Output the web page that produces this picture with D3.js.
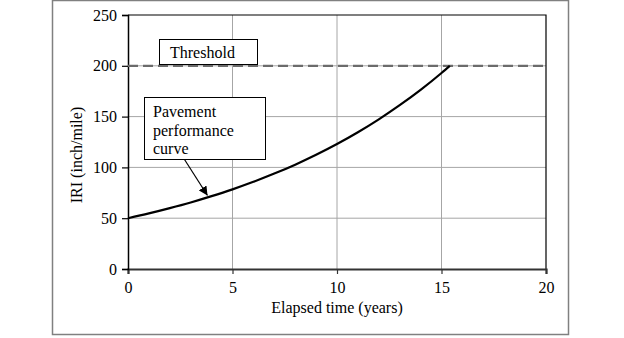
<!DOCTYPE html>
<html>
<head>
<meta charset="utf-8">
<script src="https://cdn.jsdelivr.net/npm/d3@7"></script>
<style>
  html, body { margin: 0; padding: 0; background: #fff; }
  svg text { font-family: "Liberation Serif", "Times New Roman", serif; fill: #000; }
</style>
</head>
<body>
<svg id="chart" width="624" height="338"></svg>
<script>
// Elapsed years and IRI (inch/mile) along the pavement performance curve
const years = [0, 1, 2, 3, 4, 5, 6, 7, 8, 9, 10, 11, 12, 13, 14, 15, 15.4];
const iri   = [50, 54.7, 59.9, 65.5, 71.7, 78.4, 85.8, 93.9, 102.7, 112.4, 123, 134.6, 147.3, 161.2, 176.3, 192.9, 200];
const threshold = 200;
const xTicks = [0, 5, 10, 15, 20];
const yTicks = [0, 50, 100, 150, 200, 250];
const labels = { x: "Elapsed time (years)", y: "IRI (inch/mile)", threshold: "Threshold",
                 curve: ["Pavement", "performance", "curve"] };

const svg = d3.select("#chart");
const m = { left: 128, right: 546, top: 15, bottom: 269 };

const x = d3.scaleLinear().domain([0, 20]).range([m.left, m.right]);
const y = d3.scaleLinear().domain([0, 250]).range([m.bottom, m.top]);

// outer frame
svg.append("rect").attr("x", 52.5).attr("y", 0.5).attr("width", 516).attr("height", 334)
  .attr("fill", "none").attr("stroke", "#808080").attr("stroke-width", 1.5);

// grid
const grid = svg.append("g").attr("stroke", "#a6a6a6").attr("stroke-width", 1);
xTicks.slice(1, -1).forEach(t => grid.append("line")
  .attr("x1", x(t)).attr("x2", x(t)).attr("y1", m.top).attr("y2", m.bottom));
yTicks.slice(1, -1).forEach(t => grid.append("line")
  .attr("x1", m.left).attr("x2", m.right).attr("y1", y(t)).attr("y2", y(t)));

// plot border (top and right)
svg.append("path")
  .attr("d", `M${m.left},${m.top}H${m.right}V${m.bottom}`)
  .attr("fill", "none").attr("stroke", "#000").attr("stroke-width", 1.2);

// axes
const xAxis = svg.append("g").attr("transform", `translate(0,${m.bottom})`)
  .call(d3.axisBottom(x).tickValues(xTicks).tickSize(5).tickPadding(8).tickFormat(d3.format("d")));
xAxis.select(".domain").attr("stroke", "#333").attr("stroke-width", 2.2);
xAxis.selectAll(".tick line").attr("stroke", "#333").attr("stroke-width", 1.2);
xAxis.selectAll("text").attr("font-size", 16).attr("font-family", "Liberation Serif");

const yAxis = svg.append("g").attr("transform", `translate(${m.left},0)`)
  .call(d3.axisLeft(y).tickValues(yTicks).tickSize(6).tickPadding(5).tickFormat(d3.format("d")));
yAxis.select(".domain").attr("stroke", "#000").attr("stroke-width", 1.5);
yAxis.selectAll(".tick line").attr("stroke", "#000").attr("stroke-width", 1.2);
yAxis.selectAll("text").attr("font-size", 16).attr("font-family", "Liberation Serif");

// threshold line
svg.append("line")
  .attr("x1", x(0)).attr("x2", x(20)).attr("y1", y(threshold)).attr("y2", y(threshold))
  .attr("stroke", "#6b6b6b").attr("stroke-width", 2.2).attr("stroke-dasharray", "10,5");

// performance curve
const line = d3.line().x((d, i) => x(years[i])).y(d => y(d)).curve(d3.curveMonotoneX);
svg.append("path").datum(iri).attr("d", line)
  .attr("fill", "none").attr("stroke", "#000").attr("stroke-width", 2.2);

// axis titles
svg.append("text").attr("x", 337).attr("y", 313).attr("text-anchor", "middle")
  .attr("font-size", 16).text(labels.x);
svg.append("text").attr("transform", `translate(82,155) rotate(-90)`)
  .attr("text-anchor", "middle").attr("font-size", 16).text(labels.y);

// threshold callout
svg.append("rect").attr("x", 159.5).attr("y", 39.5).attr("width", 98).attr("height", 25)
  .attr("fill", "#fff").attr("stroke", "#000").attr("stroke-width", 1);
svg.append("text").attr("x", 170).attr("y", 58).attr("font-size", 16).text(labels.threshold);

// curve callout with arrow
const defs = svg.append("defs");
defs.append("marker").attr("id", "arrow").attr("viewBox", "0 0 10 10")
  .attr("refX", 10).attr("refY", 5).attr("markerWidth", 9).attr("markerHeight", 9)
  .attr("markerUnits", "userSpaceOnUse").attr("orient", "auto")
  .append("path").attr("d", "M0,0L10,5L0,10Z").attr("fill", "#000");

svg.append("line").attr("x1", 184.5).attr("y1", 159.5).attr("x2", 207.5).attr("y2", 195.5)
  .attr("stroke", "#000").attr("stroke-width", 1.2).attr("marker-end", "url(#arrow)");

svg.append("rect").attr("x", 144.5).attr("y", 97.5).attr("width", 121).attr("height", 62)
  .attr("fill", "#fff").attr("stroke", "#000").attr("stroke-width", 1);
svg.append("text").attr("font-size", 16)
  .selectAll("tspan").data(labels.curve).join("tspan")
  .attr("x", 153).attr("y", (d, i) => 117 + i * 18.5).text(d => d);
</script>
</body>
</html>
